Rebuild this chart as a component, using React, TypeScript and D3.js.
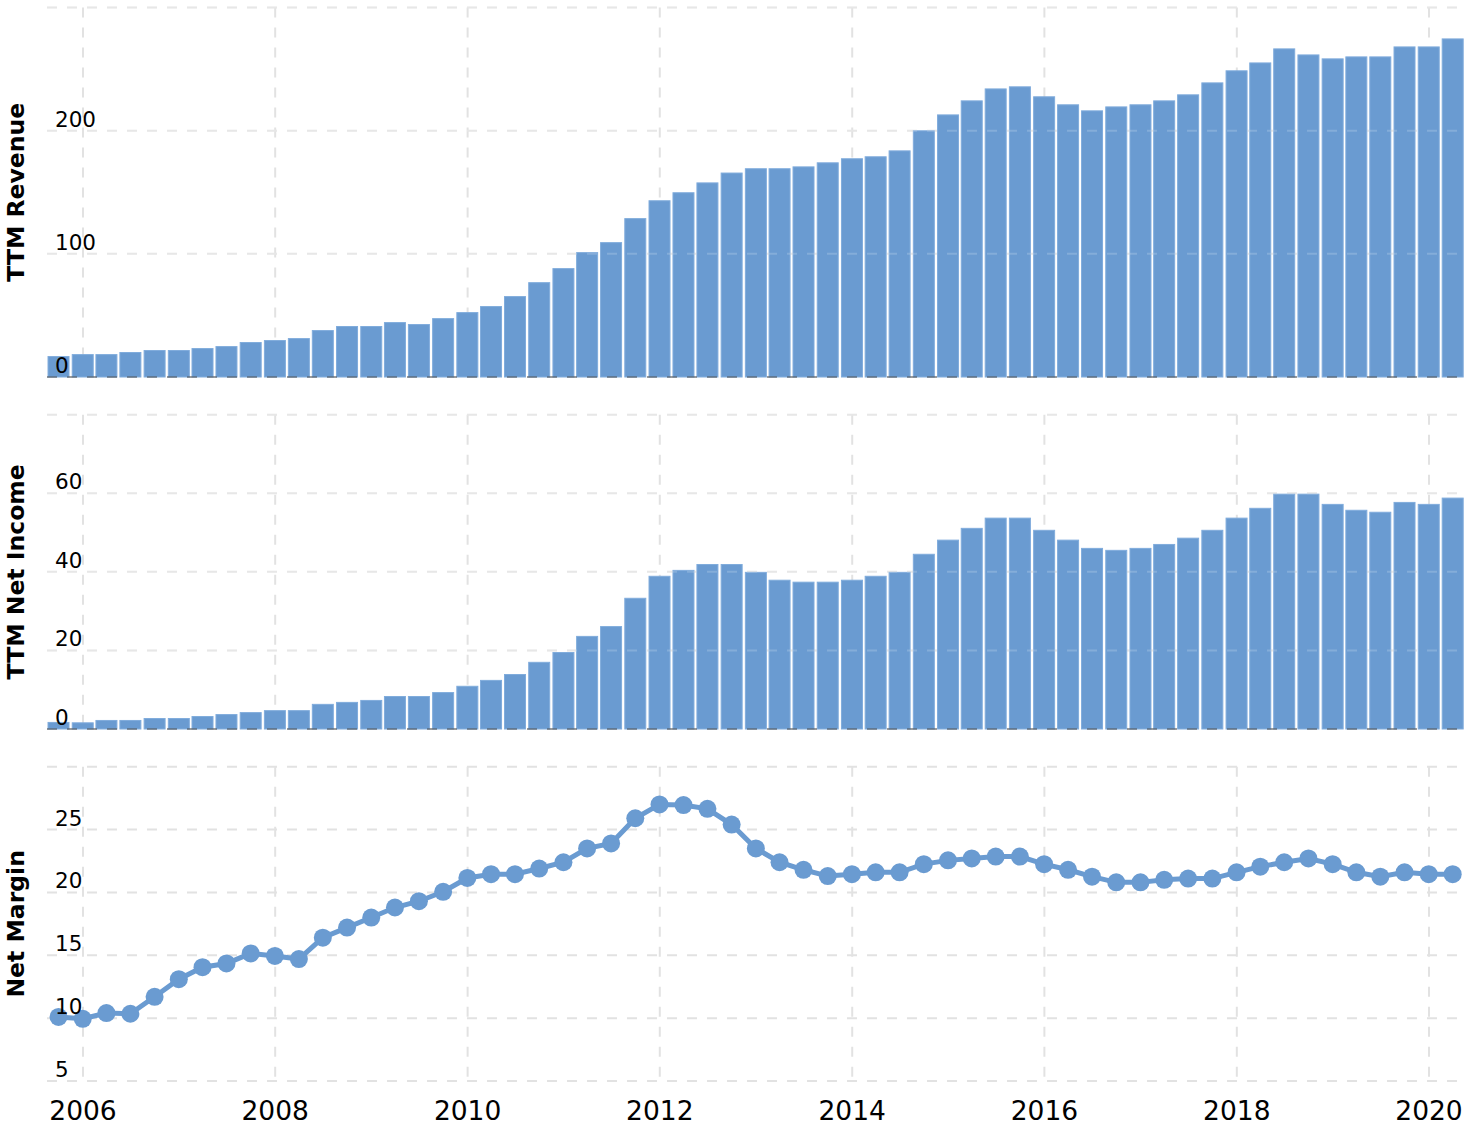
import React from "react";
import * as d3 from "d3";

const quarters: string[] = [
  "2005-09-30", "2005-12-31",
  "2006-03-31", "2006-06-30", "2006-09-30", "2006-12-31",
  "2007-03-31", "2007-06-30", "2007-09-30", "2007-12-31",
  "2008-03-31", "2008-06-30", "2008-09-30", "2008-12-31",
  "2009-03-31", "2009-06-30", "2009-09-30", "2009-12-31",
  "2010-03-31", "2010-06-30", "2010-09-30", "2010-12-31",
  "2011-03-31", "2011-06-30", "2011-09-30", "2011-12-31",
  "2012-03-31", "2012-06-30", "2012-09-30", "2012-12-31",
  "2013-03-31", "2013-06-30", "2013-09-30", "2013-12-31",
  "2014-03-31", "2014-06-30", "2014-09-30", "2014-12-31",
  "2015-03-31", "2015-06-30", "2015-09-30", "2015-12-31",
  "2016-03-31", "2016-06-30", "2016-09-30", "2016-12-31",
  "2017-03-31", "2017-06-30", "2017-09-30", "2017-12-31",
  "2018-03-31", "2018-06-30", "2018-09-30", "2018-12-31",
  "2019-03-31", "2019-06-30", "2019-09-30", "2019-12-31",
  "2020-03-31",
];

const revenue: number[] = [
  17, 18.6, 18.6, 20.3, 21.9, 21.9, 23.5, 25.1, 28.4, 30,
  31.6, 38.1, 41.4, 41.4, 44.6, 43, 47.8, 52.7, 57.6, 65.7,
  77, 88.4, 101.4, 109.5, 129, 143.5, 150, 158, 166, 169.5,
  169.5, 171, 174.3, 177.6, 179.2, 184, 200.3, 213.2, 224.6, 234.3,
  236, 227.9, 221.4, 216.5, 219.7, 221.4, 224.6, 229.5, 239.2, 249,
  255.4, 266.8, 261.9, 258.7, 260.3, 260.3, 268.4, 268.4, 274.9,
];

const netIncome: number[] = [
  1.8, 1.7, 2.3, 2.3, 2.8, 2.8, 3.3, 3.8, 4.3, 4.8,
  4.8, 6.4, 6.9, 7.4, 8.4, 8.4, 9.4, 11, 12.5, 14,
  17.1, 19.6, 23.7, 26.2, 33.4, 39, 40.5, 42, 42, 40,
  38, 37.5, 37.5, 38, 39, 40, 44.6, 48.2, 51.2, 53.8,
  53.8, 50.7, 48.2, 46.1, 45.6, 46.1, 47.1, 48.7, 50.7, 53.8,
  56.3, 59.9, 59.9, 57.3, 55.8, 55.3, 57.8, 57.3, 58.9,
];

const netMargin: number[] = [
  10.1, 9.95, 10.4, 10.35, 11.7, 13.1, 14.05, 14.35, 15.15, 14.95,
  14.7, 16.4, 17.2, 18.0, 18.8, 19.3, 20.05, 21.15, 21.45, 21.45,
  21.9, 22.4, 23.5, 23.9, 25.9, 27.0, 26.95, 26.65, 25.4, 23.5,
  22.4, 21.8, 21.3, 21.45, 21.6, 21.6, 22.25, 22.55, 22.7, 22.85,
  22.85, 22.25, 21.8, 21.25, 20.8, 20.8, 21.0, 21.1, 21.1, 21.6,
  22.05, 22.4, 22.7, 22.25, 21.6, 21.25, 21.6, 21.45, 21.45,
];

const yearTicks: number[] = [2006, 2008, 2010, 2012, 2014, 2016, 2018, 2020];
const revTicks: number[] = [0, 100, 200, 300];
const revLabels: number[] = [0, 100, 200];
const niTicks: number[] = [0, 20, 40, 60, 80];
const niLabels: number[] = [0, 20, 40, 60];
const nmTicks: number[] = [5, 10, 15, 20, 25, 30];
const nmLabels: number[] = [5, 10, 15, 20, 25];

const W = 1478;
const H = 1126;
const LEFT = 47;
const RIGHT = 1463;
const BLUE = "#6a9bd1";
const GRID = "#e2e2e2";
const FONT = "'DejaVu Sans', Verdana, sans-serif";

const dates = quarters.map((s) => d3.timeParse("%Y-%m-%d")(s) as Date);

const x = d3
  .scaleTime()
  .domain([new Date(2006, 0, 1), new Date(2020, 0, 1)])
  .range([83, 1429]);

const step = (x(dates[dates.length - 1]) - x(dates[0])) / (dates.length - 1);
const barW = step * 0.915;

type Panel = {
  title: string;
  y: d3.ScaleLinear<number, number>;
  ticks: number[];
  labels: number[];
  top: number;
  bottom: number;
};

const panels: Panel[] = [
  {
    title: "TTM Revenue",
    y: d3.scaleLinear().domain([0, 300]).range([377, 7.5]),
    ticks: revTicks,
    labels: revLabels,
    top: 7.5,
    bottom: 377,
  },
  {
    title: "TTM Net Income",
    y: d3.scaleLinear().domain([0, 80]).range([729, 414.7]),
    ticks: niTicks,
    labels: niLabels,
    top: 414.7,
    bottom: 729,
  },
  {
    title: "Net Margin",
    y: d3.scaleLinear().domain([5, 30]).range([1081, 766.7]),
    ticks: nmTicks,
    labels: nmLabels,
    top: 766.7,
    bottom: 1081,
  },
];

function Grid({ p }: { p: Panel }) {
  return (
    <g>
      {p.ticks.map((t) => (
        <line
          key={"h" + t}
          x1={LEFT}
          x2={RIGHT}
          y1={p.y(t)}
          y2={p.y(t)}
          stroke={GRID}
          strokeWidth={2}
          strokeDasharray="10,10"
        />
      ))}
      {yearTicks.map((yr) => {
        const xx = x(new Date(yr, 0, 1));
        return (
          <line
            key={"v" + yr}
            x1={xx}
            x2={xx}
            y1={p.top}
            y2={p.bottom}
            stroke={GRID}
            strokeWidth={2}
            strokeDasharray="10,10"
          />
        );
      })}
    </g>
  );
}

function Overlay({ p, zero }: { p: Panel; zero: boolean }) {
  return (
    <g>
      {p.ticks
        .filter((t) => t !== 0)
        .map((t) => (
          <line
            key={"o" + t}
            x1={LEFT}
            x2={RIGHT}
            y1={p.y(t)}
            y2={p.y(t)}
            stroke="#ffffff"
            strokeOpacity={0.18}
            strokeWidth={2}
            strokeDasharray="10,10"
          />
        ))}
      {zero && (
        <line
          x1={LEFT}
          x2={RIGHT}
          y1={p.y(0)}
          y2={p.y(0)}
          stroke="#444"
          strokeOpacity={0.45}
          strokeWidth={2}
          strokeDasharray="10,10"
        />
      )}
    </g>
  );
}

function Labels({ p }: { p: Panel }) {
  const cy = (p.top + p.bottom) / 2;
  return (
    <g>
      {p.labels.map((t) => (
        <text
          key={"l" + t}
          x={55}
          y={p.y(t) - 4}
          fontFamily={FONT}
          fontSize={21.5}
          fill="#000"
        >
          {t}
        </text>
      ))}
      <text
        transform={`translate(24,${cy}) rotate(-90)`}
        textAnchor="middle"
        fontFamily={FONT}
        fontWeight="bold"
        fontSize={23.5}
        fill="#000"
      >
        {p.title}
      </text>
    </g>
  );
}

function Bars({ p, values }: { p: Panel; values: number[] }) {
  return (
    <g>
      {values.map((v, i) => {
        const cx = x(dates[i]);
        const y0 = p.y(0);
        const y1 = p.y(v);
        return (
          <rect
            key={i}
            x={cx - barW / 2 + 0.5}
            y={y1 + 0.5}
            width={barW - 1}
            height={y0 - y1 - 0.5}
            fill={BLUE}
            stroke="#80acdc"
            strokeWidth={1}
          />
        );
      })}
    </g>
  );
}

export default function App() {
  const [p1, p2, p3] = panels;
  const line = d3
    .line<number>()
    .x((_, i) => x(dates[i]))
    .y((v) => p3.y(v));

  return (
    <svg
      width={W}
      height={H}
      style={{ position: "absolute", left: 0, top: 0, background: "#fff" }}
    >
      <rect x={0} y={0} width={W} height={H} fill="#fff" />
      {panels.map((p, i) => (
        <Grid key={i} p={p} />
      ))}
      <Bars p={p1} values={revenue} />
      <Bars p={p2} values={netIncome} />
      <Overlay p={p1} zero={true} />
      <Overlay p={p2} zero={true} />
      <path d={line(netMargin) || ""} fill="none" stroke={BLUE} strokeWidth={5} />
      {netMargin.map((v, i) => (
        <circle key={i} cx={x(dates[i])} cy={p3.y(v)} r={9} fill={BLUE} />
      ))}
      {panels.map((p, i) => (
        <Labels key={i} p={p} />
      ))}
      {yearTicks.map((yr) => (
        <text
          key={yr}
          x={x(new Date(yr, 0, 1))}
          y={1120}
          textAnchor="middle"
          fontFamily={FONT}
          fontSize={26.5}
          fill="#000"
        >
          {yr}
        </text>
      ))}
    </svg>
  );
}
